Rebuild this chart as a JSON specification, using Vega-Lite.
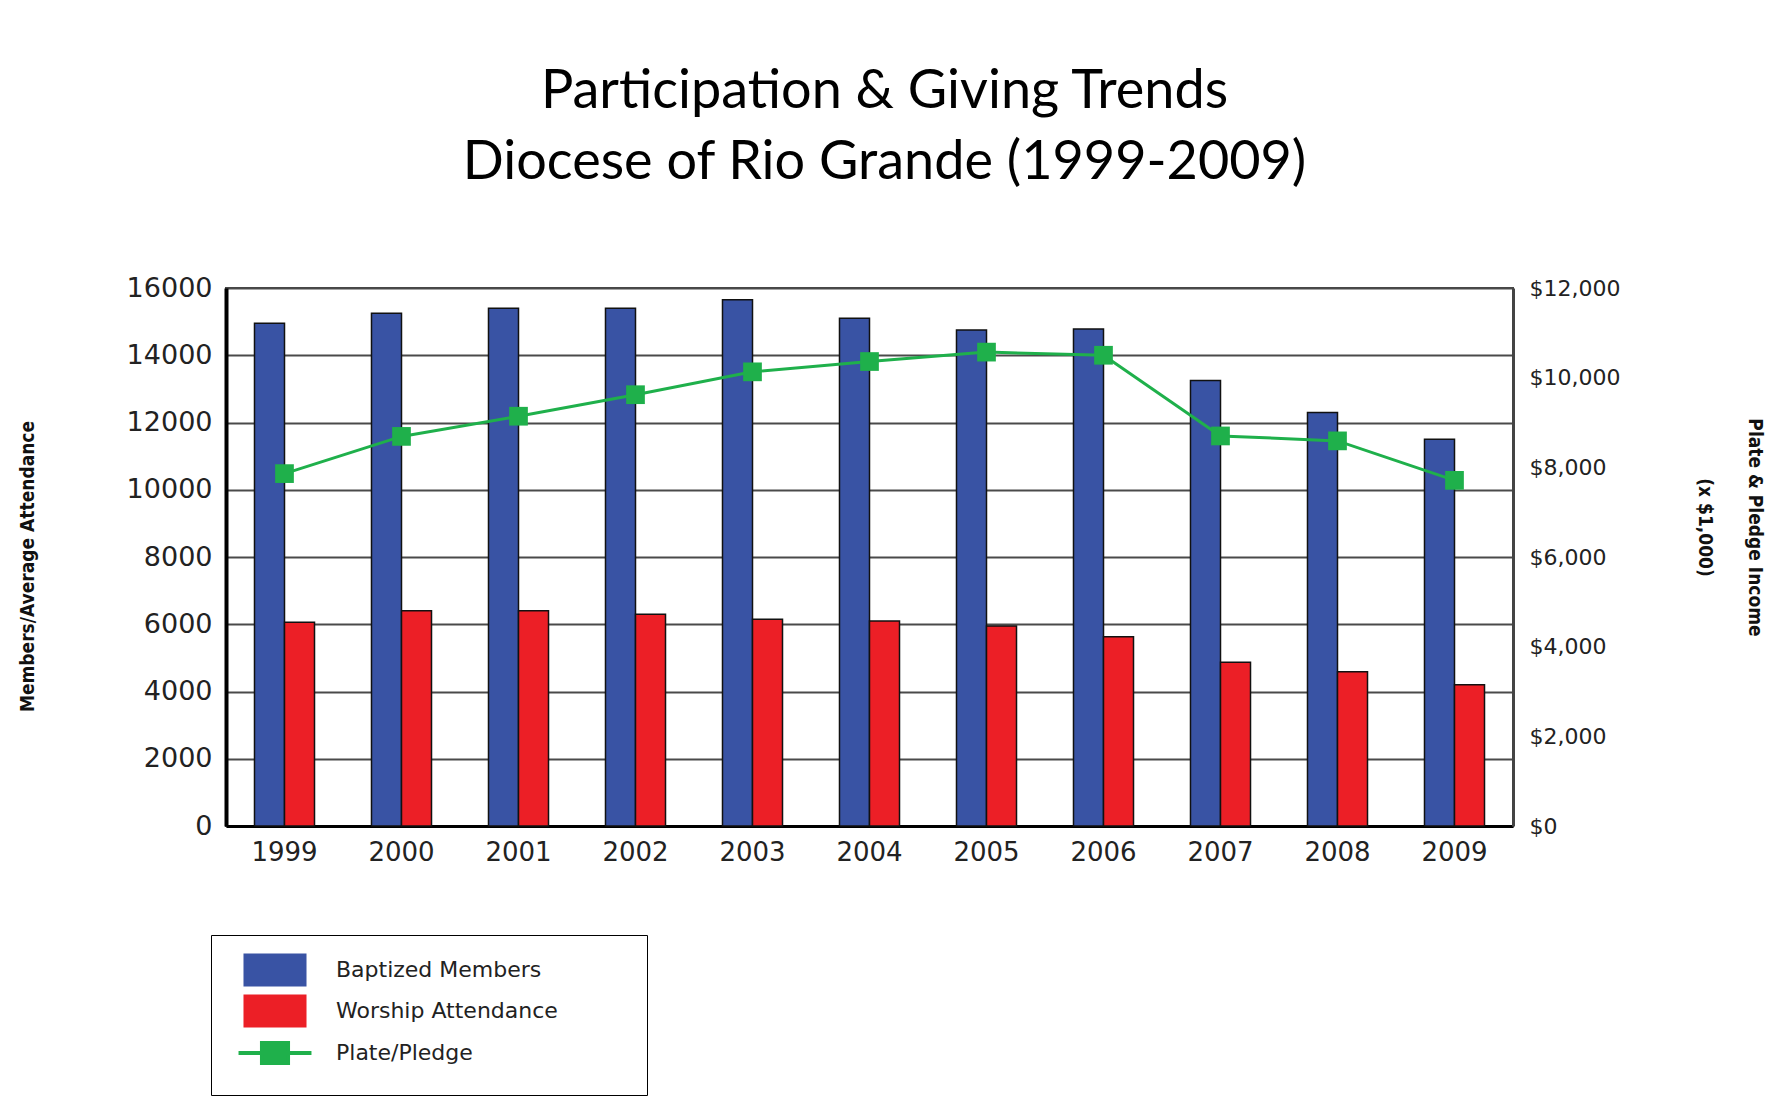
{
  "$schema": "https://vega.github.io/schema/vega-lite/v6.json",
  "width": 1287,
  "height": 538,
  "autosize": {"type": "none"},
  "padding": {"left": 226, "top": 288, "right": 272, "bottom": 272},
  "background": "white",
  "title": {
    "text": ["Participation & Giving Trends", "Diocese of Rio Grande (1999-2009)"],
    "font": "Lato",
    "fontSize": 54,
    "fontWeight": "normal",
    "color": "black",
    "lineHeight": 71,
    "anchor": "middle",
    "frame": "group",
    "baseline": "bottom",
    "offset": 30,
    "dx": 15
  },
  "datasets": {
    "members": [
      {"year": "1999", "series": "Baptized Members", "count": 14950},
      {"year": "2000", "series": "Baptized Members", "count": 15250},
      {"year": "2001", "series": "Baptized Members", "count": 15400},
      {"year": "2002", "series": "Baptized Members", "count": 15400},
      {"year": "2003", "series": "Baptized Members", "count": 15650},
      {"year": "2004", "series": "Baptized Members", "count": 15100},
      {"year": "2005", "series": "Baptized Members", "count": 14750},
      {"year": "2006", "series": "Baptized Members", "count": 14780},
      {"year": "2007", "series": "Baptized Members", "count": 13250},
      {"year": "2008", "series": "Baptized Members", "count": 12300},
      {"year": "2009", "series": "Baptized Members", "count": 11500},
      {"year": "1999", "series": "Worship Attendance", "count": 6060},
      {"year": "2000", "series": "Worship Attendance", "count": 6400},
      {"year": "2001", "series": "Worship Attendance", "count": 6400},
      {"year": "2002", "series": "Worship Attendance", "count": 6300},
      {"year": "2003", "series": "Worship Attendance", "count": 6150},
      {"year": "2004", "series": "Worship Attendance", "count": 6100},
      {"year": "2005", "series": "Worship Attendance", "count": 5950},
      {"year": "2006", "series": "Worship Attendance", "count": 5630},
      {"year": "2007", "series": "Worship Attendance", "count": 4870},
      {"year": "2008", "series": "Worship Attendance", "count": 4590},
      {"year": "2009", "series": "Worship Attendance", "count": 4200}
    ],
    "giving": [
      {"year": "1999", "amount": 7860},
      {"year": "2000", "amount": 8690},
      {"year": "2001", "amount": 9140},
      {"year": "2002", "amount": 9620},
      {"year": "2003", "amount": 10130},
      {"year": "2004", "amount": 10360},
      {"year": "2005", "amount": 10570},
      {"year": "2006", "amount": 10500},
      {"year": "2007", "amount": 8700},
      {"year": "2008", "amount": 8590},
      {"year": "2009", "amount": 7710}
    ]
  },
  "layer": [
    {
      "data": {"name": "members"},
      "mark": {"type": "bar", "stroke": "#111111", "strokeWidth": 1.5},
      "encoding": {
        "x": {
          "field": "year", "type": "nominal",
          "scale": {"paddingInner": 0.487, "paddingOuter": 0.2435},
          "axis": {"title": null, "labelAngle": 0, "labelFontSize": 26, "labelPadding": 13, "domainColor": "black", "domainWidth": 3, "grid": false}
        },
        "xOffset": {
          "field": "series", "type": "nominal",
          "scale": {"domain": ["Baptized Members", "Worship Attendance"], "paddingInner": 0, "paddingOuter": 0}
        },
        "y": {
          "field": "count", "type": "quantitative",
          "scale": {"domain": [0, 16000], "nice": false},
          "axis": {
            "title": "Members/Average Attendance",
            "values": [0, 2000, 4000, 6000, 8000, 10000, 12000, 14000, 16000],
            "format": "d",
            "grid": true, "gridColor": "#4a4a4a", "gridWidth": 2,
            "domainColor": "black", "domainWidth": 4,
            "labelFontSize": 27, "labelPadding": 14,
            "titleFont": "Liberation Sans Narrow, DejaVu Sans Condensed",
            "titleFontWeight": "bold", "titleFontSize": 19, "titlePadding": 89,
            "titleY": 278
          }
        },
        "color": {
          "field": "series", "type": "nominal",
          "scale": {"domain": ["Baptized Members", "Worship Attendance", "Plate/Pledge"], "range": ["#3953a4", "#ec1f26", "#1fb04b"]},
          "legend": {
            "title": null,
            "orient": "none",
            "legendX": -15,
            "legendY": 647,
            "direction": "vertical",
            "strokeColor": "black",
            "fillColor": "white",
            "padding": 24,
            "labelFont": "DejaVu Sans",
            "labelFontSize": 22,
            "labelColor": "#222222",
            "labelOffset": 50,
            "labelLimit": 600,
            "labelExpr": "datum.label + '\u2800\u2800\u2800\u2800'",
            "symbolType": {"expr": "datum.value === 'Plate/Pledge' ? 'M-2.21,0H2.21M-0.79,-0.6H0.79V0.6H-0.79Z' : 'M-1.91,-1H1.91V1H-1.91Z'"},
            "symbolStrokeWidth": {"expr": "datum.value === 'Plate/Pledge' ? 4 : 0"},
            "symbolSize": 1089,
            "symbolOffset": 29,
            "rowPadding": 7
          }
        }
      }
    },
    {
      "data": {"name": "giving"},
      "encoding": {
        "x": {"field": "year", "type": "nominal"},
        "y": {
          "field": "amount", "type": "quantitative",
          "scale": {"domain": [0, 12000], "nice": false},
          "axis": {
            "orient": "right",
            "title": ["Plate & Pledge Income", "(x $1,000)"],
            "values": [0, 2000, 4000, 6000, 8000, 10000, 12000],
            "format": "$,.0f",
            "grid": false,
            "domainColor": "#444444", "domainWidth": 3,
            "labelFontSize": 22, "labelPadding": 16,
            "titleFont": "Liberation Sans Narrow, DejaVu Sans Condensed",
            "titleFontWeight": "bold", "titleFontSize": 19,
            "titleLineHeight": 50, "titlePadding": 75,
            "titleY": 239
          }
        },
        "color": {"datum": "Plate/Pledge"}
      },
      "layer": [
        {"mark": {"type": "line", "strokeWidth": 3}},
        {"mark": {"type": "point", "shape": "square", "filled": true, "size": 350, "opacity": 1}}
      ]
    }
  ],
  "resolve": {"scale": {"y": "independent"}},
  "config": {
    "view": {"stroke": "#444444", "strokeWidth": 2},
    "axis": {"ticks": false, "labelFont": "DejaVu Sans", "labelColor": "#222222", "titleColor": "#111111"}
  }
}
